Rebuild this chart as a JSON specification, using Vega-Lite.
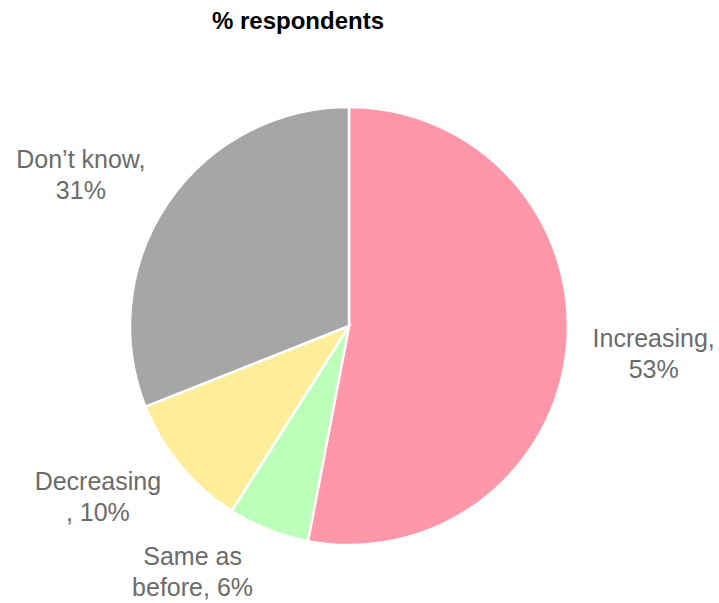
{
  "$schema": "https://vega.github.io/schema/vega-lite/v6.json",
  "width": 698,
  "height": 532,
  "autosize": {"type": "none"},
  "padding": {"top": 60, "left": 0, "right": 21, "bottom": 11},
  "background": "white",
  "config": {"view": {"stroke": null}},
  "title": {
    "text": "% respondents",
    "font": "Liberation Sans",
    "fontSize": 24,
    "fontWeight": "bold",
    "color": "#000000",
    "anchor": "middle",
    "frame": "group",
    "baseline": "alphabetic",
    "offset": 7,
    "dx": -51
  },
  "data": {
    "values": [
      {"category": "Increasing", "value": 53, "label": "Increasing,\n53%", "rank": 1},
      {"category": "Same as before", "value": 6, "label": "Same as\nbefore, 6%", "rank": 2},
      {"category": "Decreasing", "value": 10, "label": "Decreasing\n, 10%", "rank": 3},
      {"category": "Don’t know", "value": 31, "label": "Don’t know,\n31%", "rank": 4}
    ]
  },
  "layer": [
    {
      "mark": {"type": "arc", "outerRadius": 219, "stroke": "white", "strokeWidth": 2.5},
      "encoding": {
        "theta": {"field": "value", "type": "quantitative", "stack": true},
        "order": {"field": "rank", "type": "quantitative"},
        "color": {
          "field": "category",
          "type": "nominal",
          "scale": {
            "domain": ["Increasing", "Same as before", "Decreasing", "Don’t know"],
            "range": ["#FF97A9", "#BBFFBB", "#FFEE99", "#A6A6A6"]
          },
          "legend": null
        }
      }
    },
    {
      "mark": {"type": "text", "radius": 300, "font": "Liberation Sans", "fontSize": 25, "fill": "#6B6B6B", "align": "center", "baseline": "middle", "lineBreak": "\n", "lineHeight": 31, "dx": 6, "dy": -15},
      "encoding": {
        "theta": {"field": "value", "type": "quantitative", "stack": true},
        "order": {"field": "rank", "type": "quantitative"},
        "text": {"condition": {"test": "datum.category === 'Increasing'", "field": "label"}, "value": ""}
      }
    },
    {
      "mark": {"type": "text", "radius": 300, "font": "Liberation Sans", "fontSize": 25, "fill": "#6B6B6B", "align": "center", "baseline": "middle", "lineBreak": "\n", "lineHeight": 31, "dx": -46, "dy": -48},
      "encoding": {
        "theta": {"field": "value", "type": "quantitative", "stack": true},
        "order": {"field": "rank", "type": "quantitative"},
        "text": {"condition": {"test": "datum.category === 'Same as before'", "field": "label"}, "value": ""}
      }
    },
    {
      "mark": {"type": "text", "radius": 300, "font": "Liberation Sans", "fontSize": 25, "fill": "#6B6B6B", "align": "center", "baseline": "middle", "lineBreak": "\n", "lineHeight": 31, "dx": -20, "dy": -35},
      "encoding": {
        "theta": {"field": "value", "type": "quantitative", "stack": true},
        "order": {"field": "rank", "type": "quantitative"},
        "text": {"condition": {"test": "datum.category === 'Decreasing'", "field": "label"}, "value": ""}
      }
    },
    {
      "mark": {"type": "text", "radius": 300, "font": "Liberation Sans", "fontSize": 25, "fill": "#6B6B6B", "align": "center", "baseline": "middle", "lineBreak": "\n", "lineHeight": 31, "dx": -20, "dy": 3},
      "encoding": {
        "theta": {"field": "value", "type": "quantitative", "stack": true},
        "order": {"field": "rank", "type": "quantitative"},
        "text": {"condition": {"test": "datum.category === 'Don’t know'", "field": "label"}, "value": ""}
      }
    }
  ]
}
